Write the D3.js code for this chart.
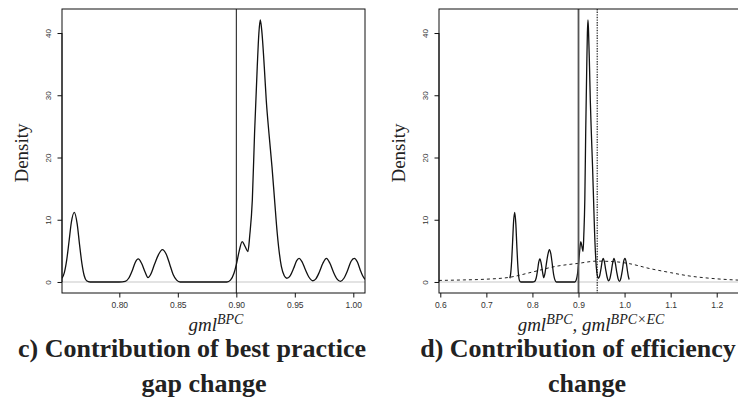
<!DOCTYPE html>
<html>
<head>
<meta charset="utf-8">
<script src="https://cdn.jsdelivr.net/npm/d3@7"></script>
<style>
  body { margin: 0; background: #fff; }
  svg { display: block; }
</style>
</head>
<body>
<div id="chart"></div>
<script>
// density of gml^BPC
const bpcX = [0.751, 0.753, 0.755, 0.757, 0.759, 0.7615, 0.764, 0.766, 0.768, 0.770, 0.772, 0.775,
  0.800, 0.805, 0.808, 0.811, 0.8135, 0.8162, 0.819, 0.822, 0.8245, 0.827, 0.830, 0.8335, 0.8368,
  0.840, 0.843, 0.846, 0.849, 0.852, 0.892, 0.895, 0.898, 0.900, 0.9025, 0.9050, 0.9075, 0.9099,
  0.9115, 0.9137, 0.9156, 0.9179, 0.9193, 0.9205, 0.9217, 0.9239, 0.9256, 0.9279, 0.9305, 0.9327,
  0.9350, 0.9385, 0.9410, 0.9432, 0.946, 0.949, 0.9515, 0.9537, 0.956, 0.959, 0.962, 0.9654, 0.968,
  0.971, 0.974, 0.977, 0.980, 0.983, 0.986, 0.989, 0.992, 0.995, 0.998, 1.0008, 1.0035, 1.006,
  1.008, 1.010];
const bpcY = [0.6, 1.5, 3.5, 6.5, 9.6, 11.2, 9.3, 6.0, 3.0, 1.0, 0.2, 0.0,
  0.0, 0.1, 0.6, 1.8, 3.1, 3.7, 3.0, 1.6, 0.7, 1.3, 2.8, 4.4, 5.2,
  4.5, 2.9, 1.2, 0.3, 0.0, 0.0, 0.3, 1.4, 2.8, 5.0, 6.5, 5.7, 4.9,
  7.5, 13.2, 23.9, 34.6, 40.0, 42.1, 40.5, 34.6, 29.2, 23.9, 18.5, 13.2,
  7.8, 2.5, 1.0, 0.6, 1.0, 2.2, 3.4, 3.8, 3.3, 2.0, 0.8, 0.2, 0.5,
  1.6, 3.0, 3.8, 3.0, 1.6, 0.5, 0.1, 0.6, 1.8, 3.3, 3.8, 3.2, 1.9,
  1.0, 0.4];

// density of gml^BPCxEC (dashed, right panel)
const ecX = [0.597, 0.65, 0.70, 0.75, 0.80, 0.85, 0.90, 0.94, 0.98, 1.01, 1.055, 1.10, 1.14, 1.185, 1.262];
const ecY = [0.25, 0.33, 0.45, 0.75, 1.6, 2.5, 3.0, 3.35, 3.25, 2.95, 2.15, 1.5, 0.97, 0.6, 0.25];

const yTicks = [0, 10, 20, 30, 40];
const xTicksC = [0.80, 0.85, 0.90, 0.95, 1.00];
const xTicksD = [0.6, 0.7, 0.8, 0.9, 1.0, 1.1, 1.2];

const refBPC = 0.90;    // solid vertical line
const refEC = 0.9406;   // dotted vertical line (right panel)

const titleC = ["c) Contribution of best practice", "gap change"];
const titleD = ["d) Contribution of efficiency", "change"];

const W = 738, H = 406;
const svg = d3.select("#chart").append("svg")
  .attr("width", W).attr("height", H);

const bpcData = bpcX.map((x, i) => ({ x: x, y: bpcY[i] }));
const ecData = ecX.map((x, i) => ({ x: x, y: ecY[i] }));

function drawPanel(p) {
  const g = svg.append("g");
  const x = d3.scaleLinear().domain(p.xDomain).range([p.left, p.right]);
  const y = d3.scaleLinear().domain([-1.77, 43.86]).range([p.bottom, p.top]);

  const clipId = "clip" + p.id;
  g.append("clipPath").attr("id", clipId)
    .append("rect").attr("x", p.left).attr("y", p.top)
    .attr("width", p.right - p.left).attr("height", p.bottom - p.top);

  const plot = g.append("g").attr("clip-path", `url(#${clipId})`);

  // gray zero line
  plot.append("line")
    .attr("x1", p.left).attr("x2", p.right)
    .attr("y1", y(0)).attr("y2", y(0))
    .attr("stroke", "#c8c8c8").attr("stroke-width", 1.2);

  const line = d3.line().x(d => x(d.x)).y(d => y(d.y)).curve(d3.curveMonotoneX);

  if (p.dashed) {
    plot.append("path").datum(ecData)
      .attr("d", line).attr("fill", "none")
      .attr("stroke", "#222").attr("stroke-width", 1)
      .attr("stroke-dasharray", "3,3");
  }

  plot.append("path").datum(bpcData)
    .attr("d", line).attr("fill", "none")
    .attr("stroke", "#111").attr("stroke-width", 1.3);

  // vertical reference lines
  plot.append("line")
    .attr("x1", x(refBPC)).attr("x2", x(refBPC))
    .attr("y1", p.top).attr("y2", p.bottom)
    .attr("stroke", p.dashed ? "#555" : "#111")
    .attr("stroke-width", p.dashed ? 1.8 : 1);
  if (p.dashed) {
    plot.append("line")
      .attr("x1", x(refEC)).attr("x2", x(refEC))
      .attr("y1", p.top).attr("y2", p.bottom)
      .attr("stroke", "#111").attr("stroke-width", 1.1)
      .attr("stroke-dasharray", "1.4,1.2");
  }

  // box
  g.append("rect")
    .attr("x", p.left).attr("y", p.top)
    .attr("width", p.right - p.left).attr("height", p.bottom - p.top)
    .attr("fill", "none").attr("stroke", "#111").attr("stroke-width", 1);

  // x axis
  const xa = g.append("g").attr("transform", `translate(0,${p.bottom})`)
    .call(d3.axisBottom(x).tickValues(p.xTicks).tickSize(4.5).tickPadding(4)
      .tickFormat(p.xFormat));
  xa.select(".domain").remove();
  xa.selectAll("text").attr("font-family", "Liberation Sans, Arial, sans-serif")
    .attr("font-size", 8.5).attr("fill", "#333");
  xa.selectAll("line").attr("stroke", "#111");

  // y axis
  const ya = g.append("g").attr("transform", `translate(${p.left},0)`)
    .call(d3.axisLeft(y).tickValues(yTicks).tickSize(4.5).tickFormat(d3.format("d")));
  ya.select(".domain").remove();
  ya.selectAll("line").attr("stroke", "#111");
  ya.selectAll("text")
    .attr("font-family", "Liberation Sans, Arial, sans-serif")
    .attr("font-size", 8).attr("fill", "#333")
    .attr("text-anchor", "middle")
    .attr("x", 0).attr("dy", 0)
    .attr("transform", `translate(${-11.5},0) rotate(-90)`);
  ya.append("line").attr("x1", 0).attr("x2", 0)
    .attr("y1", y(0)).attr("y2", y(40)).attr("stroke", "#111");

  // Density label
  g.append("text")
    .attr("transform", `translate(${p.left - 34},${(p.top + p.bottom) / 2 + 2}) rotate(-90)`)
    .attr("text-anchor", "middle")
    .attr("font-family", "Liberation Serif, Times New Roman, serif")
    .attr("font-size", 19).attr("fill", "#222")
    .text("Density");

  // x label with superscripts
  const xl = g.append("text")
    .attr("x", p.labelX).attr("y", 331)
    .attr("text-anchor", "middle")
    .attr("font-family", "Liberation Serif, Times New Roman, serif")
    .attr("font-style", "italic").attr("font-size", 19).attr("fill", "#222");
  p.xLabel.forEach(part => {
    xl.append("tspan").text(part.base);
    xl.append("tspan").attr("dy", -7).attr("font-size", 14).text(part.sup);
    xl.append("tspan").attr("dy", 7).text(part.after || "");
  });

  // caption
  p.title.forEach((t, i) => {
    g.append("text")
      .attr("x", p.titleX[i]).attr("y", 357 + i * 34.5)
      .attr("text-anchor", "middle")
      .attr("font-family", "Liberation Serif, Times New Roman, serif")
      .attr("font-weight", "bold").attr("font-size", 26).attr("fill", "#222")
      .text(t);
  });
}

drawPanel({
  id: "c", left: 62, right: 365, top: 9, bottom: 293,
  xDomain: [0.751, 1.010], xTicks: xTicksC, xFormat: d3.format(".2f"),
  dashed: false, labelX: 216,
  xLabel: [{ base: "gml", sup: "BPC" }],
  title: titleC, titleX: [192, 204]
});

drawPanel({
  id: "d", left: 439, right: 745, top: 9, bottom: 293,
  xDomain: [0.5972, 1.2614], xTicks: xTicksD, xFormat: d3.format(".1f"),
  dashed: true, labelX: 591,
  xLabel: [{ base: "gml", sup: "BPC", after: ", " }, { base: "gml", sup: "BPC\u00d7EC" }],
  title: titleD, titleX: [578, 587]
});
</script>
</body>
</html>
